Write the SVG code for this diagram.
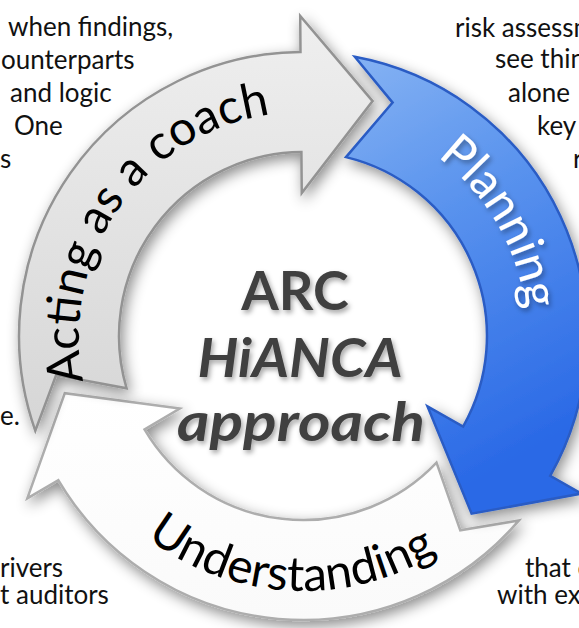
<svg xmlns="http://www.w3.org/2000/svg" width="579" height="628" viewBox="0 0 579 628">
<style>
.side{font-family:Lato,"Liberation Sans",sans-serif;font-size:26px;fill:#111}
.lbl{font-family:Lato,"Liberation Sans",sans-serif;font-size:48px}
.ctr{font-family:Lato,"Liberation Sans",sans-serif;font-weight:bold;font-size:54px;fill:#404040;text-anchor:middle}
</style>
<defs>
<filter id="sh" x="-25%" y="-25%" width="150%" height="150%"><feDropShadow dx="3" dy="5" stdDeviation="7" flood-color="#000" flood-opacity="0.45"/></filter>
<filter id="tsh" x="-10%" y="-20%" width="120%" height="150%"><feDropShadow dx="2" dy="3" stdDeviation="2.5" flood-color="#000" flood-opacity="0.35"/></filter>
<linearGradient id="gGray" x1="0" y1="0" x2="0" y2="1"><stop offset="0" stop-color="#efefef"/><stop offset="1" stop-color="#d6d6d6"/></linearGradient>
<linearGradient id="gBlue" x1="0" y1="0" x2="0.3" y2="1"><stop offset="0" stop-color="#86b3f3"/><stop offset="0.4" stop-color="#5b94ee"/><stop offset="1" stop-color="#2a69e6"/></linearGradient>
<linearGradient id="gWhite" x1="0" y1="0" x2="0" y2="1"><stop offset="0" stop-color="#ffffff"/><stop offset="1" stop-color="#fafafa"/></linearGradient>
<path id="pGray" d="M 92.5 412.6 A 224 224 0 0 1 303 112"/>
<path id="pBlue" d="M 322.5 112.9 A 224 224 0 0 1 506 430.7"/>
<path id="pWhite" d="M 86.7 471.1 A 255 255 0 0 0 503.9 493"/>
</defs>
<rect width="579" height="628" fill="#fff"/>
<g id="side-text" class="side">
<text x="8" y="36">when findings,</text>
<text x="1" y="69">ounterparts</text>
<text x="10" y="102">and logic</text>
<text x="14" y="135">One</text>
<text x="0" y="168">s</text>
<text x="0" y="425">e.</text>
<text x="0" y="577">rivers</text>
<text x="0" y="604">t auditors</text>
<text x="455" y="37">risk assessm</text>
<text x="495" y="68">see thin</text>
<text x="508" y="102">alone</text>
<text x="537" y="135">key</text>
<text x="573" y="168">r</text>
<text x="525" y="577">that c</text>
<text x="497" y="604">with ex</text>
</g>
<g id="connectors"></g>
<g id="node-understanding">
<path d="M 519 520.4 L 460.3 530.3 L 436.5 462.7 A 184 184 0 0 1 144.5 429.4 L 179.8 408.6 L 64.8 393.2 L 27.3 498.4 L 58.3 480.1 A 284 284 0 0 0 519 520.4 Z" fill="url(#gWhite)" stroke="#adadad" stroke-width="2.5" filter="url(#sh)"/>
<text class="lbl" fill="#000" text-anchor="middle"><textPath href="#pWhite" startOffset="50%">Understanding</textPath></text>
</g>
<g id="node-acting">
<path d="M 35.3 430.8 L 56.1 375.1 L 126.6 388.3 A 184 184 0 0 1 301.4 152 L 301.75 193 L 372.6 101.1 L 300.2 16 L 300.5 52 A 284 284 0 0 0 35.3 430.8 Z" fill="url(#gGray)" stroke="#939393" stroke-width="2.5" filter="url(#sh)"/>
<text class="lbl" fill="#000" text-anchor="middle"><textPath href="#pGray" startOffset="50%">Acting as a coach</textPath></text>
</g>
<g id="node-planning">
<path d="M 354.8 56.8 L 392.6 102.6 L 346 157.1 A 184 184 0 0 1 463.1 426.6 L 427.5 406.4 L 471.6 513.7 L 581.5 493.6 L 550.2 475.8 A 284 284 0 0 0 354.8 56.8 Z" fill="url(#gBlue)" stroke="#2a5cc4" stroke-width="2.5" filter="url(#sh)"/>
<text class="lbl" fill="#fff" text-anchor="middle" filter="url(#tsh)"><textPath href="#pBlue" startOffset="50%">Planning</textPath></text>
</g>
<g id="node-center" filter="url(#tsh)">
<text class="ctr" x="295" y="310">ARC</text>
<text class="ctr" x="300" y="377" font-style="italic" textLength="205" lengthAdjust="spacingAndGlyphs">HiANCA</text>
<text class="ctr" x="301" y="441" font-style="italic" textLength="248" lengthAdjust="spacingAndGlyphs">approach</text>
</g>
</svg>
